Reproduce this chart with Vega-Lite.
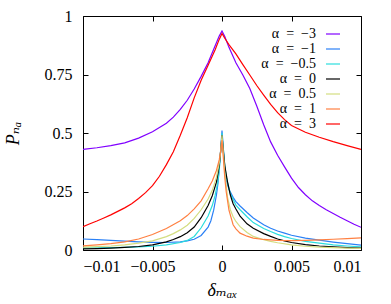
{
"$schema": "https://vega.github.io/schema/vega-lite/v6.json",
"width": 278, "height": 234,
"autosize": {"type": "none"},
"padding": {"left": 83, "top": 16, "right": 30, "bottom": 54},
"config": {
  "view": {"stroke": "#000", "strokeWidth": 1},
  "font": "Liberation Serif, DejaVu Serif, serif",
  "axis": {"domain": false, "grid": false, "tickSize": -5, "tickColor": "#000", "tickWidth": 1,
           "labelFont": "Liberation Serif, DejaVu Serif, serif", "labelFontSize": 16, "labelColor": "#000",
           "titleFont": "Liberation Serif, DejaVu Serif, serif", "titleFontSize": 18, "titleFontWeight": "normal", "titleFontStyle": "italic", "titleColor": "#000"},
  "legend": {"labelFont": "Liberation Serif, DejaVu Serif, serif", "labelFontSize": 14, "labelColor": "#000"}
},
"datasets": {"d": [
{"a":"-3","x":-0.01,"y":0.43},{"a":"-3","x":-0.009,"y":0.437},{"a":"-3","x":-0.008,"y":0.446},{"a":"-3","x":-0.007,"y":0.458},{"a":"-3","x":-0.006,"y":0.478},{"a":"-3","x":-0.005,"y":0.505},{"a":"-3","x":-0.004,"y":0.542},{"a":"-3","x":-0.0035,"y":0.568},{"a":"-3","x":-0.003,"y":0.601},{"a":"-3","x":-0.0025,"y":0.64},{"a":"-3","x":-0.002,"y":0.688},{"a":"-3","x":-0.0015,"y":0.742},{"a":"-3","x":-0.001,"y":0.8},{"a":"-3","x":-0.0005,"y":0.872},{"a":"-3","x":-0.0002,"y":0.914},{"a":"-3","x":0,"y":0.936},{"a":"-3","x":0.0002,"y":0.912},{"a":"-3","x":0.0005,"y":0.866},{"a":"-3","x":0.001,"y":0.8},{"a":"-3","x":0.0015,"y":0.748},{"a":"-3","x":0.002,"y":0.69},{"a":"-3","x":0.0025,"y":0.615},{"a":"-3","x":0.003,"y":0.535},{"a":"-3","x":0.0035,"y":0.462},{"a":"-3","x":0.004,"y":0.405},{"a":"-3","x":0.0045,"y":0.355},{"a":"-3","x":0.005,"y":0.307},{"a":"-3","x":0.0055,"y":0.267},{"a":"-3","x":0.006,"y":0.236},{"a":"-3","x":0.0065,"y":0.21},{"a":"-3","x":0.007,"y":0.19},{"a":"-3","x":0.0075,"y":0.172},{"a":"-3","x":0.008,"y":0.156},{"a":"-3","x":0.0085,"y":0.14},{"a":"-3","x":0.009,"y":0.125},{"a":"-3","x":0.0095,"y":0.11},{"a":"-3","x":0.01,"y":0.097},
{"a":"-1","x":-0.01,"y":0.047},{"a":"-1","x":-0.009,"y":0.044},{"a":"-1","x":-0.008,"y":0.041},{"a":"-1","x":-0.007,"y":0.038},{"a":"-1","x":-0.006,"y":0.035},{"a":"-1","x":-0.005,"y":0.033},{"a":"-1","x":-0.004,"y":0.032},{"a":"-1","x":-0.003,"y":0.035},{"a":"-1","x":-0.0025,"y":0.039},{"a":"-1","x":-0.002,"y":0.046},{"a":"-1","x":-0.0015,"y":0.062},{"a":"-1","x":-0.001,"y":0.098},{"a":"-1","x":-0.0008,"y":0.125},{"a":"-1","x":-0.0006,"y":0.17},{"a":"-1","x":-0.0004,"y":0.235},{"a":"-1","x":-0.0003,"y":0.28},{"a":"-1","x":-0.0002,"y":0.345},{"a":"-1","x":-0.0001,"y":0.425},{"a":"-1","x":0,"y":0.51},{"a":"-1","x":0.0001,"y":0.43},{"a":"-1","x":0.0002,"y":0.35},{"a":"-1","x":0.0003,"y":0.3},{"a":"-1","x":0.0005,"y":0.26},{"a":"-1","x":0.0008,"y":0.225},{"a":"-1","x":0.001,"y":0.207},{"a":"-1","x":0.0013,"y":0.188},{"a":"-1","x":0.0018,"y":0.16},{"a":"-1","x":0.00225,"y":0.137},{"a":"-1","x":0.003,"y":0.108},{"a":"-1","x":0.0035,"y":0.093},{"a":"-1","x":0.004,"y":0.081},{"a":"-1","x":0.0045,"y":0.072},{"a":"-1","x":0.005,"y":0.063},{"a":"-1","x":0.006,"y":0.051},{"a":"-1","x":0.007,"y":0.042},{"a":"-1","x":0.008,"y":0.034},{"a":"-1","x":0.009,"y":0.027},{"a":"-1","x":0.01,"y":0.021},
{"a":"-0.5","x":-0.01,"y":0.008},{"a":"-0.5","x":-0.009,"y":0.009},{"a":"-0.5","x":-0.008,"y":0.01},{"a":"-0.5","x":-0.007,"y":0.011},{"a":"-0.5","x":-0.006,"y":0.013},{"a":"-0.5","x":-0.005,"y":0.016},{"a":"-0.5","x":-0.004,"y":0.022},{"a":"-0.5","x":-0.003,"y":0.032},{"a":"-0.5","x":-0.0025,"y":0.041},{"a":"-0.5","x":-0.002,"y":0.058},{"a":"-0.5","x":-0.0015,"y":0.095},{"a":"-0.5","x":-0.001,"y":0.145},{"a":"-0.5","x":-0.0007,"y":0.19},{"a":"-0.5","x":-0.0005,"y":0.232},{"a":"-0.5","x":-0.0003,"y":0.29},{"a":"-0.5","x":-0.0002,"y":0.34},{"a":"-0.5","x":-0.0001,"y":0.42},{"a":"-0.5","x":0,"y":0.5},{"a":"-0.5","x":0.0001,"y":0.43},{"a":"-0.5","x":0.0002,"y":0.36},{"a":"-0.5","x":0.0003,"y":0.315},{"a":"-0.5","x":0.0006,"y":0.24},{"a":"-0.5","x":0.001,"y":0.192},{"a":"-0.5","x":0.0013,"y":0.172},{"a":"-0.5","x":0.0018,"y":0.142},{"a":"-0.5","x":0.00225,"y":0.117},{"a":"-0.5","x":0.003,"y":0.092},{"a":"-0.5","x":0.0035,"y":0.079},{"a":"-0.5","x":0.004,"y":0.067},{"a":"-0.5","x":0.0045,"y":0.057},{"a":"-0.5","x":0.005,"y":0.049},{"a":"-0.5","x":0.006,"y":0.037},{"a":"-0.5","x":0.007,"y":0.029},{"a":"-0.5","x":0.008,"y":0.022},{"a":"-0.5","x":0.009,"y":0.017},{"a":"-0.5","x":0.01,"y":0.013},
{"a":"0","x":-0.01,"y":0.005},{"a":"0","x":-0.009,"y":0.006},{"a":"0","x":-0.008,"y":0.008},{"a":"0","x":-0.007,"y":0.011},{"a":"0","x":-0.006,"y":0.015},{"a":"0","x":-0.005,"y":0.022},{"a":"0","x":-0.004,"y":0.035},{"a":"0","x":-0.0035,"y":0.045},{"a":"0","x":-0.003,"y":0.057},{"a":"0","x":-0.0025,"y":0.074},{"a":"0","x":-0.002,"y":0.098},{"a":"0","x":-0.0015,"y":0.138},{"a":"0","x":-0.001,"y":0.19},{"a":"0","x":-0.0007,"y":0.232},{"a":"0","x":-0.0004,"y":0.29},{"a":"0","x":-0.0002,"y":0.36},{"a":"0","x":-0.0001,"y":0.42},{"a":"0","x":0,"y":0.49},{"a":"0","x":0.0001,"y":0.42},{"a":"0","x":0.0002,"y":0.36},{"a":"0","x":0.0004,"y":0.29},{"a":"0","x":0.0006,"y":0.235},{"a":"0","x":0.0008,"y":0.198},{"a":"0","x":0.001,"y":0.175},{"a":"0","x":0.0013,"y":0.145},{"a":"0","x":0.0018,"y":0.112},{"a":"0","x":0.00225,"y":0.093},{"a":"0","x":0.003,"y":0.07},{"a":"0","x":0.0035,"y":0.058},{"a":"0","x":0.004,"y":0.047},{"a":"0","x":0.0045,"y":0.039},{"a":"0","x":0.005,"y":0.032},{"a":"0","x":0.006,"y":0.023},{"a":"0","x":0.007,"y":0.017},{"a":"0","x":0.008,"y":0.013},{"a":"0","x":0.009,"y":0.01},{"a":"0","x":0.01,"y":0.008},
{"a":"0.5","x":-0.01,"y":0.012},{"a":"0.5","x":-0.009,"y":0.014},{"a":"0.5","x":-0.008,"y":0.017},{"a":"0.5","x":-0.007,"y":0.022},{"a":"0.5","x":-0.006,"y":0.029},{"a":"0.5","x":-0.005,"y":0.039},{"a":"0.5","x":-0.004,"y":0.057},{"a":"0.5","x":-0.0035,"y":0.07},{"a":"0.5","x":-0.003,"y":0.086},{"a":"0.5","x":-0.0025,"y":0.106},{"a":"0.5","x":-0.002,"y":0.135},{"a":"0.5","x":-0.0015,"y":0.172},{"a":"0.5","x":-0.001,"y":0.218},{"a":"0.5","x":-0.0007,"y":0.255},{"a":"0.5","x":-0.0004,"y":0.31},{"a":"0.5","x":-0.0002,"y":0.37},{"a":"0.5","x":-0.0001,"y":0.42},{"a":"0.5","x":0,"y":0.49},{"a":"0.5","x":0.0001,"y":0.41},{"a":"0.5","x":0.0002,"y":0.33},{"a":"0.5","x":0.0004,"y":0.225},{"a":"0.5","x":0.0006,"y":0.172},{"a":"0.5","x":0.0008,"y":0.142},{"a":"0.5","x":0.001,"y":0.122},{"a":"0.5","x":0.0013,"y":0.1},{"a":"0.5","x":0.0018,"y":0.075},{"a":"0.5","x":0.00225,"y":0.058},{"a":"0.5","x":0.003,"y":0.044},{"a":"0.5","x":0.0035,"y":0.037},{"a":"0.5","x":0.004,"y":0.031},{"a":"0.5","x":0.005,"y":0.022},{"a":"0.5","x":0.006,"y":0.016},{"a":"0.5","x":0.007,"y":0.012},{"a":"0.5","x":0.008,"y":0.01},{"a":"0.5","x":0.009,"y":0.008},{"a":"0.5","x":0.01,"y":0.007},
{"a":"1","x":-0.01,"y":0.018},{"a":"1","x":-0.009,"y":0.022},{"a":"1","x":-0.008,"y":0.027},{"a":"1","x":-0.007,"y":0.035},{"a":"1","x":-0.006,"y":0.047},{"a":"1","x":-0.005,"y":0.066},{"a":"1","x":-0.004,"y":0.092},{"a":"1","x":-0.003,"y":0.125},{"a":"1","x":-0.0025,"y":0.147},{"a":"1","x":-0.002,"y":0.176},{"a":"1","x":-0.0015,"y":0.21},{"a":"1","x":-0.001,"y":0.262},{"a":"1","x":-0.0007,"y":0.295},{"a":"1","x":-0.0004,"y":0.34},{"a":"1","x":-0.0002,"y":0.385},{"a":"1","x":-0.0001,"y":0.42},{"a":"1","x":0,"y":0.47},{"a":"1","x":0.0001,"y":0.39},{"a":"1","x":0.0002,"y":0.31},{"a":"1","x":0.0003,"y":0.25},{"a":"1","x":0.0005,"y":0.17},{"a":"1","x":0.0008,"y":0.108},{"a":"1","x":0.001,"y":0.09},{"a":"1","x":0.0013,"y":0.072},{"a":"1","x":0.0018,"y":0.059},{"a":"1","x":0.00225,"y":0.051},{"a":"1","x":0.003,"y":0.045},{"a":"1","x":0.004,"y":0.041},{"a":"1","x":0.005,"y":0.04},{"a":"1","x":0.006,"y":0.041},{"a":"1","x":0.007,"y":0.043},{"a":"1","x":0.008,"y":0.046},{"a":"1","x":0.009,"y":0.049},{"a":"1","x":0.01,"y":0.052},
{"a":"3","x":-0.01,"y":0.1},{"a":"3","x":-0.0095,"y":0.112},{"a":"3","x":-0.009,"y":0.124},{"a":"3","x":-0.0085,"y":0.137},{"a":"3","x":-0.008,"y":0.15},{"a":"3","x":-0.0075,"y":0.165},{"a":"3","x":-0.007,"y":0.18},{"a":"3","x":-0.0065,"y":0.198},{"a":"3","x":-0.006,"y":0.22},{"a":"3","x":-0.0055,"y":0.245},{"a":"3","x":-0.005,"y":0.275},{"a":"3","x":-0.0045,"y":0.315},{"a":"3","x":-0.004,"y":0.365},{"a":"3","x":-0.0035,"y":0.42},{"a":"3","x":-0.003,"y":0.49},{"a":"3","x":-0.0025,"y":0.565},{"a":"3","x":-0.002,"y":0.65},{"a":"3","x":-0.0015,"y":0.725},{"a":"3","x":-0.001,"y":0.79},{"a":"3","x":-0.0005,"y":0.855},{"a":"3","x":-0.0002,"y":0.9},{"a":"3","x":0,"y":0.925},{"a":"3","x":0.0002,"y":0.905},{"a":"3","x":0.0005,"y":0.878},{"a":"3","x":0.001,"y":0.838},{"a":"3","x":0.0015,"y":0.792},{"a":"3","x":0.002,"y":0.748},{"a":"3","x":0.0025,"y":0.703},{"a":"3","x":0.003,"y":0.662},{"a":"3","x":0.0035,"y":0.622},{"a":"3","x":0.004,"y":0.587},{"a":"3","x":0.0045,"y":0.557},{"a":"3","x":0.005,"y":0.532},{"a":"3","x":0.006,"y":0.503},{"a":"3","x":0.007,"y":0.482},{"a":"3","x":0.008,"y":0.463},{"a":"3","x":0.009,"y":0.446},{"a":"3","x":0.01,"y":0.43}
]},
"data": {"name": "d"},
"layer": [
  {"mark": {"type": "line", "strokeWidth": 1.2, "clip": true},
   "encoding": {
     "x": {"field": "x", "type": "quantitative", "scale": {"domain": [-0.01, 0.01], "nice": false, "zero": false},
           "axis": {"values": [-0.01, -0.005, 0, 0.005, 0.01], "format": ".3~f", "labelPadding": 13, "title": "δₘₐₓ", "titlePadding": 7}},
     "y": {"field": "y", "type": "quantitative", "scale": {"domain": [0, 1], "nice": false},
           "axis": {"values": [0, 0.25, 0.5, 0.75, 1], "format": ".2~f", "labelPadding": 16, "title": "Pₙₐ", "titlePadding": 22}},
     "color": {"field": "a", "type": "nominal",
               "scale": {"domain": ["-3", "-1", "-0.5", "0", "0.5", "1", "3"],
                         "range": ["#8000ff", "#2a80f6", "#2adddd", "#000000", "#d4dd80", "#ff8042", "#ff0000"]},
               "legend": {"orient": "none", "legendX": 242, "legendY": 10, "title": null, "padding": 0,
                          "symbolType": "stroke", "symbolSize": 196, "symbolStrokeWidth": 1.2,
                          "labelAlign": "right", "labelOffset": -25, "rowPadding": 0,
                          "labelExpr": "'α\u2002=\u2002' + replace(datum.label, '-', '−')"}}
   }},
  {"mark": {"type": "point", "opacity": 0},
   "encoding": {
     "x": {"field": "x", "type": "quantitative", "scale": {"domain": [-0.01, 0.01], "nice": false, "zero": false},
           "axis": {"orient": "top", "values": [-0.01, -0.005, 0, 0.005, 0.01], "labels": false, "title": null}},
     "y": {"field": "y", "type": "quantitative", "scale": {"domain": [0, 1], "nice": false},
           "axis": {"orient": "right", "values": [0, 0.25, 0.5, 0.75, 1], "labels": false, "title": null}}
   }}
],
"resolve": {"axis": {"x": "independent", "y": "independent"}}
}
